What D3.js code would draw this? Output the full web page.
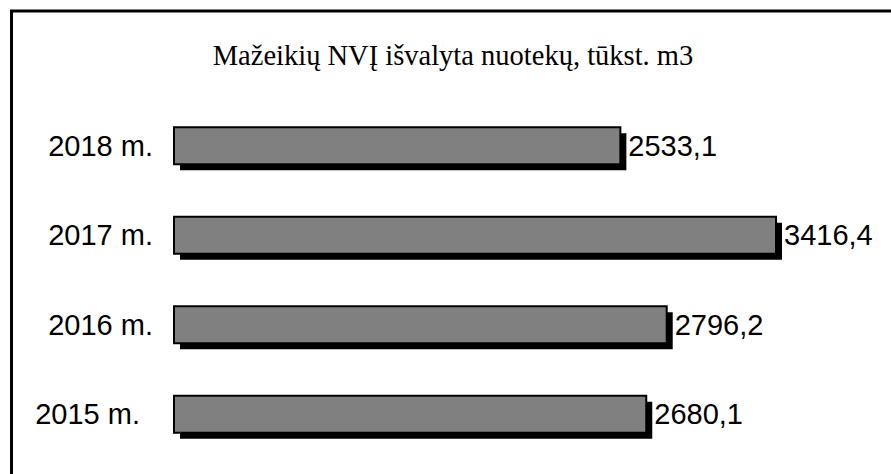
<!DOCTYPE html>
<html><head><meta charset="utf-8">
<script src="https://cdn.jsdelivr.net/npm/d3@7"></script>
<style>html,body{margin:0;padding:0;background:#fff;}svg{display:block;}</style>
</head><body>
<script>
const title = "Mažeikių NVĮ išvalyta nuotekų, tūkst. m3";
const categories = ["2018 m.", "2017 m.", "2016 m.", "2015 m."];
const values = [2533.1, 3416.4, 2796.2, 2680.1];
const valueLabels = ["2533,1", "3416,4", "2796,2", "2680,1"];

const W = 891, H = 474;
const svg = d3.select("body").append("svg").attr("width", W).attr("height", H);

// outer frame
svg.append("rect").attr("x", 11.5).attr("y", 11).attr("width", W).attr("height", H)
  .attr("fill", "none").attr("stroke", "#000").attr("stroke-width", 3);

svg.append("text").attr("x", 453).attr("y", 65).attr("text-anchor", "middle")
  .attr("font-family", "Liberation Serif, Times New Roman, serif").attr("font-size", 28.5)
  .text(title);

const x = d3.scaleLinear().domain([0, 3416.4]).range([174, 776]);
const y = d3.scaleBand().domain(categories).range([101, 459]).paddingInner(0.58).paddingOuter(0.29);

const g = svg.append("g");
const bh = 37;
categories.forEach((c, i) => {
  const y0 = y(c) + (y.bandwidth() - bh) / 2;
  // shadow
  g.append("rect").attr("x", x(0) + 6).attr("y", y0 + 6)
    .attr("width", x(values[i]) - x(0)).attr("height", bh).attr("fill", "#000");
  g.append("rect").attr("x", x(0)).attr("y", y0)
    .attr("width", x(values[i]) - x(0)).attr("height", bh)
    .attr("fill", "#808080").attr("stroke", "#000").attr("stroke-width", 2);
  g.append("text").attr("x", x(values[i]) + 8).attr("y", y0 + bh / 2 + 10)
    .attr("font-family", "Liberation Sans, Arial, sans-serif").attr("font-size", 29)
    .text(valueLabels[i]);
  g.append("text").attr("x", 153 - (i === 3 ? 13 : 0)).attr("y", y0 + bh / 2 + 10)
    .attr("text-anchor", "end")
    .attr("font-family", "Liberation Sans, Arial, sans-serif").attr("font-size", 29)
    .text(c);
});
</script>
</body></html>
